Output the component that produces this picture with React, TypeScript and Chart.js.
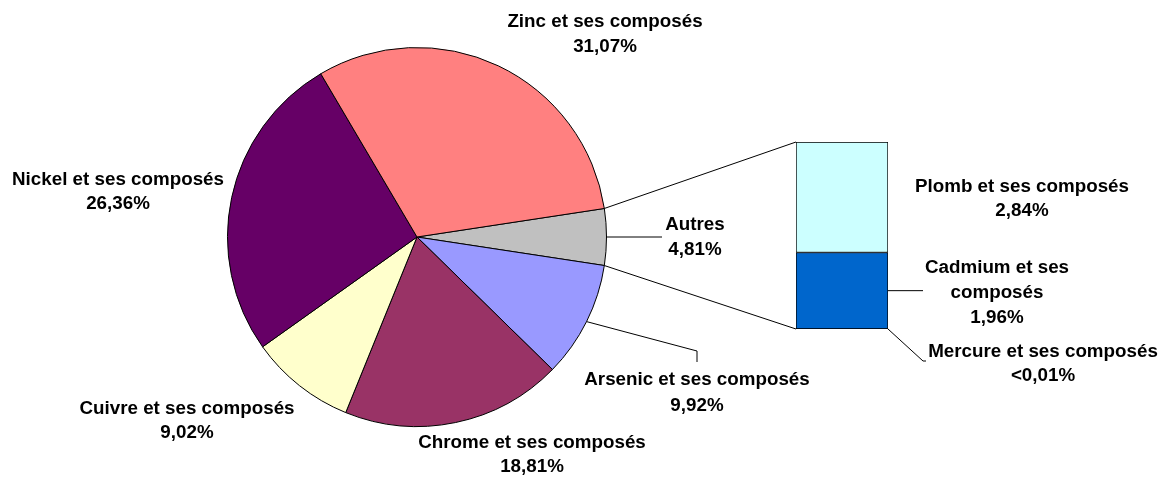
import React, { useEffect, useRef } from "react";
import { Chart, registerables } from "chart.js";

Chart.register(...registerables);

const pieLabels = [
  "Autres",
  "Arsenic et ses composés",
  "Chrome et ses composés",
  "Cuivre et ses composés",
  "Nickel et ses composés",
  "Zinc et ses composés",
];
const pieValues = [4.81, 9.92, 18.81, 9.02, 26.36, 31.07];
const pieColors = ["#C0C0C0", "#9999FF", "#993366", "#FFFFCC", "#660066", "#FF8080"];

const barLabels = ["Mercure et ses composés", "Cadmium et ses composés", "Plomb et ses composés"];
const barValues = [0.005, 1.96, 2.84];
const barColors = ["#000000", "#0066CC", "#CCFFFF"];

const fmt = (v: number) => (v < 0.01 ? "<0,01%" : v.toFixed(2).replace(".", ",") + "%");

// label layout (centre x, line centres y)
const pieLabelPos = [
  { x: 695, ys: [225, 250] },
  { x: 697, ys: [380, 406] },
  { x: 532, ys: [443, 467] },
  { x: 187, ys: [409, 433] },
  { x: 118, ys: [180, 204] },
  { x: 605, ys: [22, 47] },
];
const barLabelPos = [
  { x: 1043, ys: [352, 376], split: false },
  { x: 997, ys: [268, 293, 318], split: true },
  { x: 1022, ys: [187, 211], split: false },
];

const W = 1170;
const H = 482;
const FONT = "bold 18.8px 'Liberation Sans', Arial, sans-serif";

export default function App() {
  const pieRef = useRef<HTMLCanvasElement>(null);
  const barRef = useRef<HTMLCanvasElement>(null);

  useEffect(() => {
    document.body.style.margin = "0";
    const pie = new Chart(pieRef.current!, {
      type: "pie",
      data: {
        labels: pieLabels,
        datasets: [
          {
            data: pieValues,
            backgroundColor: pieColors,
            borderColor: "#000000",
            borderWidth: 1,
          },
        ],
      },
      options: {
        animation: false,
        responsive: false,
        rotation: 90 - (pieValues[0] / pieValues.reduce((a, b) => a + b, 0)) * 180,
        layout: { padding: { left: 227, right: 563, top: 47, bottom: 55 } },
        plugins: { legend: { display: false }, tooltip: { enabled: false } },
      },
    });

    const overlay = {
      id: "overlay",
      afterDraw(chart: any) {
        const ctx = chart.ctx as CanvasRenderingContext2D;
        const arcs = pie.getDatasetMeta(0).data as any[];
        const autres = arcs[0];
        const cx = autres.x;
        const cy = autres.y;
        const r = autres.outerRadius;
        const area = chart.chartArea;
        const ys = chart.scales.y;
        const barLeft = area.left;
        const barRight = area.right;
        const barTop = ys.getPixelForValue(barValues.reduce((a, b) => a + b, 0));
        const barBottom = ys.getPixelForValue(0);
        ctx.save();
        ctx.strokeStyle = "#000000";
        ctx.lineWidth = 1;
        // connectors
        ctx.beginPath();
        ctx.moveTo(cx + r * Math.cos(autres.startAngle), cy + r * Math.sin(autres.startAngle));
        ctx.lineTo(barLeft, barTop);
        ctx.moveTo(cx + r * Math.cos(autres.endAngle), cy + r * Math.sin(autres.endAngle));
        ctx.lineTo(barLeft, barBottom);
        ctx.stroke();
        // leader lines pie
        const mid = (a: any) => (a.startAngle + a.endAngle) / 2;
        const am = mid(arcs[0]);
        ctx.beginPath();
        ctx.moveTo(cx + r * Math.cos(am), cy + r * Math.sin(am));
        ctx.lineTo(662, cy + r * Math.sin(am));
        const sm = mid(arcs[1]);
        ctx.moveTo(cx + r * Math.cos(sm), cy + r * Math.sin(sm));
        ctx.lineTo(697, 351);
        ctx.lineTo(697, 362);
        // leader lines bar
        const cadMid = (ys.getPixelForValue(barValues[0]) + ys.getPixelForValue(barValues[0] + barValues[1])) / 2;
        ctx.moveTo(barRight, cadMid);
        ctx.lineTo(923, cadMid);
        ctx.moveTo(barRight, barBottom);
        ctx.lineTo(923, 361);
        ctx.lineTo(926, 361);
        ctx.stroke();
        // labels
        ctx.fillStyle = "#000000";
        ctx.font = FONT;
        ctx.textAlign = "center";
        ctx.textBaseline = "middle";
        pieLabels.forEach((lab, i) => {
          const p = pieLabelPos[i];
          ctx.fillText(lab, p.x, p.ys[0]);
          ctx.fillText(fmt(pieValues[i]), p.x, p.ys[1]);
        });
        barLabels.forEach((lab, i) => {
          const p = barLabelPos[i];
          let lines = [lab];
          if (p.split) {
            const k = lab.lastIndexOf(" ");
            lines = [lab.slice(0, k), lab.slice(k + 1)];
          }
          lines.push(fmt(barValues[i]));
          lines.forEach((t, j) => ctx.fillText(t, p.x, p.ys[j]));
        });
        ctx.restore();
      },
    };

    const bar = new Chart(barRef.current!, {
      type: "bar",
      data: {
        labels: ["Autres"],
        datasets: barLabels.map((l, i) => ({
          label: l,
          data: [barValues[i]],
          backgroundColor: barColors[i],
          borderColor: "#000000",
          borderWidth: i === 0 ? 2 : 1,
          borderSkipped: false,
          barPercentage: 1,
          categoryPercentage: 1,
        })),
      },
      options: {
        animation: false,
        responsive: false,
        layout: { padding: { left: 796, right: W - 888, top: 142, bottom: H - 329 } },
        scales: {
          x: { stacked: true, display: false },
          y: { stacked: true, display: false, min: 0, max: barValues.reduce((a, b) => a + b, 0) },
        },
        plugins: { legend: { display: false }, tooltip: { enabled: false } },
      },
      plugins: [overlay],
    });

    return () => {
      bar.destroy();
      pie.destroy();
    };
  }, []);

  return (
    <div style={{ position: "relative", width: W, height: H, background: "#ffffff" }}>
      <canvas ref={pieRef} width={W} height={H} style={{ position: "absolute", left: 0, top: 0 }} />
      <canvas ref={barRef} width={W} height={H} style={{ position: "absolute", left: 0, top: 0 }} />
    </div>
  );
}
